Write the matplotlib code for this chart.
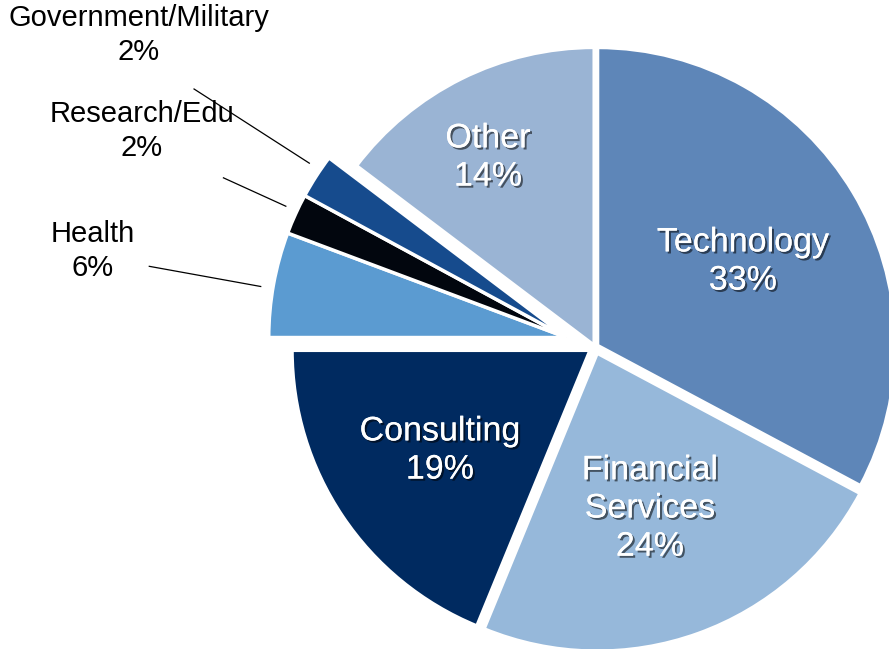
import matplotlib
matplotlib.use("Agg")
import matplotlib.pyplot as plt
import matplotlib.patheffects as pe
import numpy as np

categories = ["Technology", "Financial\nServices", "Consulting", "Health",
              "Research/Edu", "Government/Military", "Other"]
values = [32.8, 23.4, 18.8, 5.7, 2.2, 2.4, 14.7]
pct_labels = ["33%", "24%", "19%", "6%", "2%", "2%", "14%"]
colors = ["#5E86B8", "#96B8DA", "#002A60", "#5B9BD1", "#02060E", "#164B8D", "#9AB4D4"]
explode = [0.01, 0.022, 0.02, 0.0, 0.0, 0.0, 0.006]
small_group = [3, 4, 5]      # slices pulled out together
group_shift = 0.10

W, H = 889, 649
fig = plt.figure(figsize=(W / 100, H / 100), dpi=100)
ax = fig.add_axes([0, 0, 1, 1])
plt.rcParams['font.family'] = ['Liberation Sans', 'DejaVu Sans']

R = 298
cx, cy = 595, H - 347
wedges, _ = ax.pie(values, radius=R, center=(cx, cy), startangle=90, counterclock=False,
                   explode=[e * R for e in explode], colors=colors,
                   wedgeprops=dict(edgecolor="white", linewidth=2.5))

# move the small slices out as one group along their common middle direction
g1 = min(wedges[i].theta1 for i in small_group)
g2 = max(wedges[i].theta2 for i in small_group)
gm = np.deg2rad((g1 + g2) / 2)
for i in small_group:
    wedges[i].set_center((cx + group_shift * R * np.cos(gm), cy + group_shift * R * np.sin(gm)))

ax.set_xlim(0, W)
ax.set_ylim(0, H)
ax.set_aspect("equal")
ax.axis("off")

shadow = [pe.withSimplePatchShadow(offset=(1.5, -1.5), shadow_rgbFace="black", alpha=0.55),
          pe.Normal()]

# inside labels (index -> text center in pixel coords, y down)
inside_pos = {0: (743, 262), 1: (650, 509), 2: (440, 451), 6: (488, 158)}
for i, (x, y) in inside_pos.items():
    ax.text(x, H - y, f"{categories[i]}\n{pct_labels[i]}", ha="center", va="center",
            color="white", fontsize=24.5, linespacing=1.3, path_effects=shadow)

# outside labels with leader lines
outside = {3: ((93, 251), 1.52), 4: ((142, 131), 1.37), 5: ((139, 35), 1.60)}
for i, ((x, y), rout) in outside.items():
    w = wedges[i]
    mid = np.deg2rad((w.theta1 + w.theta2) / 2)
    r1, r2 = 1.14 * R, rout * R
    ax.plot([cx + r1 * np.cos(mid), cx + r2 * np.cos(mid)],
            [cy + r1 * np.sin(mid), cy + r2 * np.sin(mid)], color="black", lw=0.9)
    ax.text(x, H - y, f"{categories[i]}\n{pct_labels[i]}", ha="center", va="center",
            color="black", fontsize=21, linespacing=1.25)

fig.savefig("out.png", dpi=100)
